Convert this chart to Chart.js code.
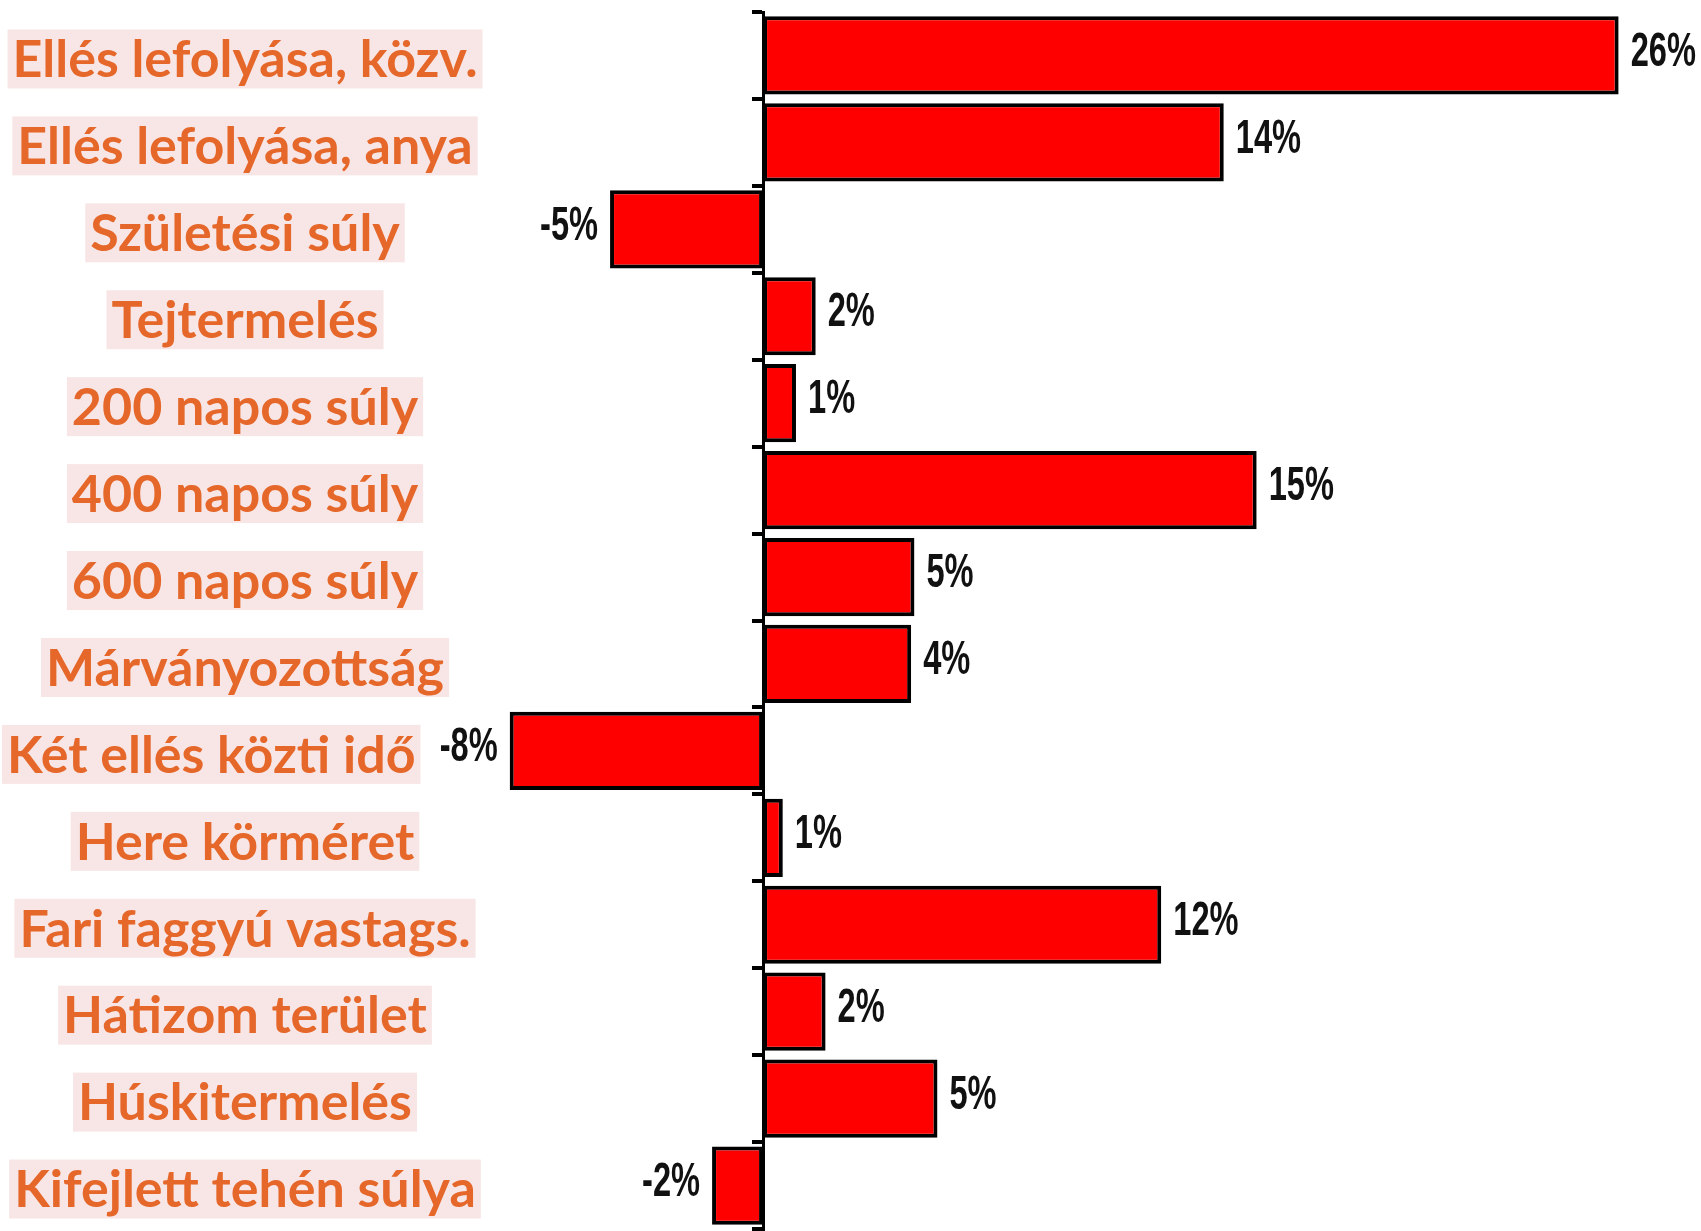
<!DOCTYPE html>
<html>
<head>
<meta charset="utf-8">
<script src="https://cdn.jsdelivr.net/npm/chart.js@4.4.0/dist/chart.umd.min.js"></script>
<style>
  html, body { margin: 0; padding: 0; background: #ffffff; }
</style>
</head>
<body>
<canvas id="grafikon" width="1701" height="1231"></canvas>
<script>
// tulajdonságok (kategóriák)
const kategoriak = [
  "Ellés lefolyása, közv.",
  "Ellés lefolyása, anya",
  "Születési súly",
  "Tejtermelés",
  "200 napos súly",
  "400 napos súly",
  "600 napos súly",
  "Márványozottság",
  "Két ellés közti idő",
  "Here körméret",
  "Fari faggyú vastags.",
  "Hátizom terület",
  "Húskitermelés",
  "Kifejlett tehén súlya"
];

// oszlopok hossza (%)
const ertekek = [26.0, 14.0, -4.65, 1.6, 1.0, 15.0, 4.6, 4.5, -7.7, 0.6, 12.1, 1.9, 5.3, -1.55];

// kiírt feliratok
const feliratok = ["26%", "14%", "-5%", "2%", "1%", "15%", "5%", "4%", "-8%", "1%", "12%", "2%", "5%", "-2%"];

// tengely tartomány
const xMin = -10;
const xMax = 27.5;

// ============================================================
// feliratok rajzolása (kategória nevek + százalékok)
// ============================================================
const feliratPlugin = {
  id: "feliratok",
  afterDatasetsDraw(chart) {
    const { ctx, scales } = chart;
    const y = scales.y;
    const meta = chart.getDatasetMeta(0);
    const ertekSkala = 0.68;

    ctx.save();
    ctx.textBaseline = "middle";

    // százalék feliratok az oszlopok végén
    ctx.font = "bold 48px 'Liberation Sans'";
    ctx.fillStyle = "#111111";
    const balSzel = [];
    meta.data.forEach((bar, i) => {
      const pozitiv = ertekek[i] >= 0;
      const x = pozitiv ? bar.x + 12 : bar.x - 12;
      const w = ctx.measureText(feliratok[i]).width * ertekSkala;
      balSzel.push(pozitiv ? Infinity : x - w);
      ctx.save();
      ctx.translate(x, bar.y - 3);
      ctx.scale(ertekSkala, 1);
      ctx.textAlign = pozitiv ? "left" : "right";
      ctx.fillText(feliratok[i], 0, 0);
      ctx.restore();
    });

    // kategória nevek rózsaszín háttérrel
    const nevX = 245;
    const nevSkala = 1.0;
    ctx.font = "bold 52px Lato";
    ctx.textAlign = "center";
    kategoriak.forEach((nev, i) => {
      const yc = y.getPixelForValue(i) + 3;
      const w = ctx.measureText(nev).width * nevSkala;
      let cx = nevX;
      // ne érjen bele a negatív oszlop feliratába
      const jobbMax = balSzel[i] - 35;
      if (cx + w / 2 + 5 > jobbMax) cx = Math.max(w / 2 + 7, jobbMax - w / 2 - 5);
      ctx.fillStyle = "#f8e6e6";
      ctx.fillRect(cx - w / 2 - 5, yc - 29, w + 10, 59);
      ctx.fillStyle = "#e5672a";
      ctx.save();
      ctx.translate(cx, yc + 2);
      ctx.scale(nevSkala, 1);
      ctx.fillText(nev, 0, 0);
      ctx.restore();
    });

    ctx.restore();
  }
};

const ctx = document.getElementById("grafikon").getContext("2d");

new Chart(ctx, {
  type: "bar",
  data: {
    labels: kategoriak,
    datasets: [{
      data: ertekek,
      yAxisID: "y",
      backgroundColor: "#ff0000",
      borderColor: "#000000",
      borderWidth: 4,
      borderSkipped: false,
      barPercentage: 0.9,
      categoryPercentage: 1
    }]
  },
  options: {
    indexAxis: "y",
    responsive: false,
    animation: false,
    layout: { padding: { left: 434, right: 33, top: 12, bottom: 2 } },
    plugins: {
      legend: { display: false },
      tooltip: { enabled: false }
    },
    scales: {
      x: { type: "linear", min: xMin, max: xMax, display: false },
      y: { type: "category", display: false },
      // függőleges tengely a nullánál, kis osztásokkal
      y2: {
        type: "category",
        position: { x: 0 },
        ticks: { display: false },
        grid: { drawOnChartArea: false, tickLength: 10, lineWidth: 4, color: "#000000" },
        border: { color: "#000000", width: 3 }
      }
    }
  },
  plugins: [feliratPlugin]
});
</script>
</body>
</html>
